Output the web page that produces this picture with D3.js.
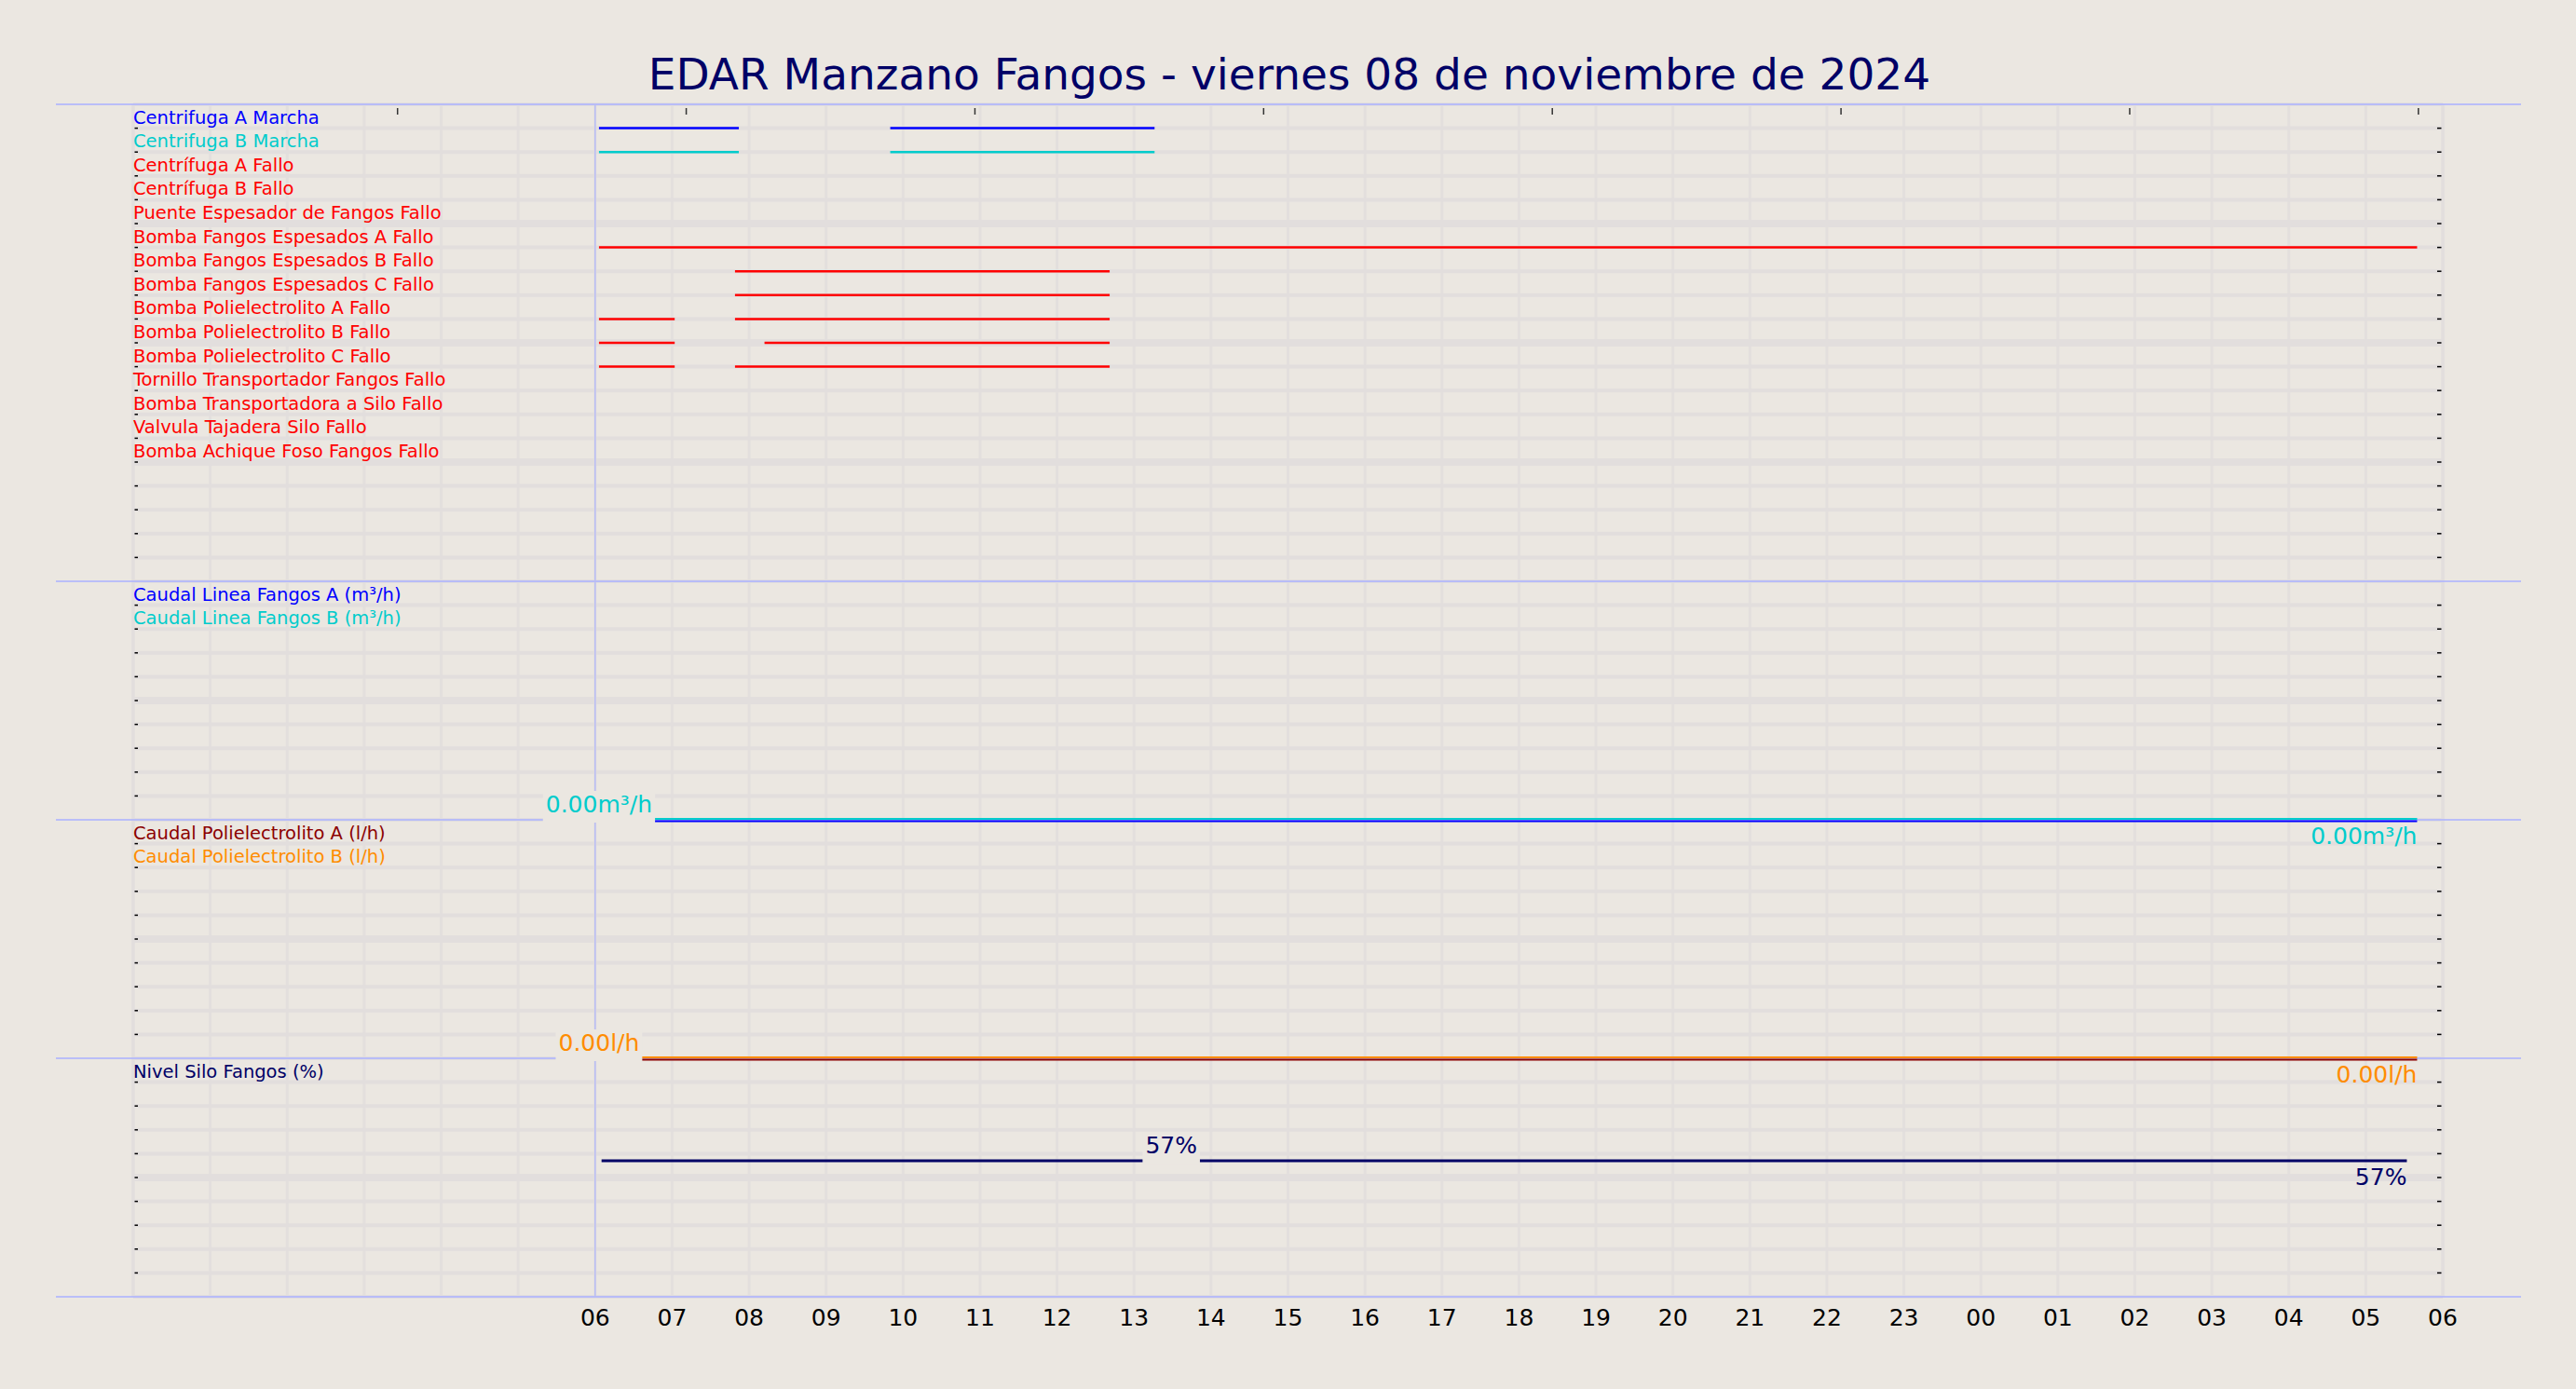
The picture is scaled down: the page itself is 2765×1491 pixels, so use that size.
<!DOCTYPE html>
<html lang="es">
<head>
<meta charset="UTF-8">
<title>EDAR Manzano Fangos</title>
<script src="https://d3js.org/d3.v7.min.js"></script>
<style>
  body { margin: 0; background: #ebe7e1; }
  text { font-family: "DejaVu Sans", sans-serif; }
</style>
</head>
<body>
<div id="chart"></div>
<script>
const width = 2765, height = 1491;
const title = "EDAR Manzano Fangos   -   viernes 08 de noviembre de 2024";

// digital signals (panel 1)
const signalNames = [
  "Centrifuga A Marcha", "Centrifuga B Marcha", "Centrífuga A Fallo", "Centrífuga B Fallo",
  "Puente Espesador de Fangos Fallo", "Bomba Fangos Espesados A Fallo", "Bomba Fangos Espesados B Fallo",
  "Bomba Fangos Espesados C Fallo", "Bomba Polielectrolito A Fallo", "Bomba Polielectrolito B Fallo",
  "Bomba Polielectrolito C Fallo", "Tornillo Transportador Fangos Fallo", "Bomba Transportadora a Silo Fallo",
  "Valvula Tajadera Silo Fallo", "Bomba Achique Foso Fangos Fallo"
];
const signalColors = ["#0000ff", "#00cccc", "#ff0000", "#ff0000", "#ff0000", "#ff0000", "#ff0000",
  "#ff0000", "#ff0000", "#ff0000", "#ff0000", "#ff0000", "#ff0000", "#ff0000", "#ff0000"];
// on intervals per signal, "HH:MM" (next day if prefixed with "+")
const signalOn = [
  [["06:03", "07:52"], ["09:50", "13:16"]],
  [["06:03", "07:52"], ["09:50", "13:16"]],
  [], [], [],
  [["06:03", "+05:40"]],
  [["07:49", "12:41"]],
  [["07:49", "12:41"]],
  [["06:03", "07:02"], ["07:49", "12:41"]],
  [["06:03", "07:02"], ["08:12", "12:41"]],
  [["06:03", "07:02"], ["07:49", "12:41"]],
  [], [], [], []
];

// analog panels
const analogPanels = [
  { names: ["Caudal Linea Fangos A (m³/h)", "Caudal Linea Fangos B (m³/h)"], colors: ["#0000ff", "#00cccc"],
    unit: "m³/h", max: 100, start: "06:03", end: "+05:40", values: [0, 0], midLabel: null },
  { names: ["Caudal Polielectrolito A (l/h)", "Caudal Polielectrolito B (l/h)"], colors: ["#8b0000", "#ff8c00"],
    unit: "l/h", max: 100, start: "06:03", end: "+05:40", values: [0, 0], midLabel: null },
  { names: ["Nivel Silo Fangos (%)"], colors: ["#000066"],
    unit: "%", max: 100, start: "06:05", end: "+05:32", values: [57], midLabel: "13:29" }
];

const hourLabels = ["06","07","08","09","10","11","12","13","14","15","16","17","18","19","20","21","22","23","00","01","02","03","04","05","06"];
const topTicks = ["03:26","07:11","10:56","14:41","18:26","22:11","+01:56","+05:41"];

function t(s) {
  const plus = s.startsWith("+");
  const [h, m] = s.replace("+", "").split(":").map(Number);
  return new Date(2024, 10, plus ? 9 : 8, h, m);
}

const svg = d3.select("#chart").append("svg").attr("width", width).attr("height", height);
const plotLeft = 143, plotRight = 2622, plotTop = 112, rowH = 25.6;
const x = d3.scaleTime().domain([t("00:00"), t("+06:00")]).range([plotLeft, plotRight]);

const panels = [{ top: plotTop, rows: 20 }];
analogPanels.forEach((p, i) => panels.push({ top: plotTop + 512 + i * 256, rows: 10 }));
const plotBottom = plotTop + 512 + 3 * 256;

svg.append("text").attr("x", 1384).attr("y", 96).attr("text-anchor", "middle")
  .attr("font-size", 47).attr("fill", "#000066").text(title);

// vertical grid
const hours = d3.timeHour.range(t("00:00"), t("+06:01"));
svg.append("g").selectAll("line").data(hours).join("line")
  .attr("x1", d => x(d)).attr("x2", d => x(d)).attr("y1", plotTop).attr("y2", plotBottom)
  .attr("stroke", "#e3dfdd").attr("stroke-width", 3);

// horizontal grid + side ticks
panels.forEach(p => {
  const idx = d3.range(0, p.rows + 1);
  const g = svg.append("g");
  g.selectAll("line.h").data(idx).join("line").attr("class", "h")
    .attr("x1", plotLeft).attr("x2", plotRight)
    .attr("y1", i => p.top + i * rowH).attr("y2", i => p.top + i * rowH)
    .attr("stroke", "#e2dedd").attr("stroke-width", i => i % 5 === 0 && i > 0 && i < p.rows ? 8 : 4);
  g.selectAll("line.r").data(idx.slice(1, -1)).join("line").attr("class", "r")
    .attr("x1", plotRight - 6).attr("x2", plotRight - 1)
    .attr("y1", i => p.top + i * rowH).attr("y2", i => p.top + i * rowH)
    .attr("stroke", "#000").attr("stroke-width", 1.5);
  g.selectAll("line.l").data(idx.slice(1, -1)).join("line").attr("class", "l")
    .attr("x1", plotLeft + 1).attr("x2", plotLeft + 5)
    .attr("y1", i => p.top + i * rowH).attr("y2", i => p.top + i * rowH)
    .attr("stroke", "#000").attr("stroke-width", 1.5);
});
[plotLeft, plotRight].forEach(xx => svg.append("line").attr("x1", xx).attr("x2", xx)
  .attr("y1", plotTop).attr("y2", plotBottom).attr("stroke", "#e2dedd").attr("stroke-width", 3));

// panel separators
const seps = panels.map(p => p.top).concat([plotBottom]);
svg.append("g").selectAll("line").data(seps).join("line")
  .attr("x1", 60).attr("x2", 2706).attr("y1", d => d).attr("y2", d => d)
  .attr("stroke", "#aab0ff").attr("stroke-width", 1.5);
svg.append("line").attr("x1", x(t("06:00"))).attr("x2", x(t("06:00"))).attr("y1", plotTop).attr("y2", plotBottom)
  .attr("stroke", "#b8bcf5").attr("stroke-width", 1.5);

// top ticks
svg.append("g").selectAll("line").data(topTicks).join("line")
  .attr("x1", d => x(t(d))).attr("x2", d => x(t(d))).attr("y1", plotTop + 4).attr("y2", plotTop + 11)
  .attr("stroke", "#333").attr("stroke-width", 1.5);

// panel 1 signals
signalNames.forEach((name, i) => {
  const yb = plotTop + (i + 1) * rowH;
  svg.append("text").attr("x", plotLeft).attr("y", yb - 5).attr("font-size", 19.5)
    .attr("fill", signalColors[i]).text(name);
  svg.append("g").selectAll("line").data(signalOn[i]).join("line")
    .attr("x1", d => x(t(d[0]))).attr("x2", d => x(t(d[1])))
    .attr("y1", yb).attr("y2", yb).attr("stroke", signalColors[i]).attr("stroke-width", 2.5);
});

// analog panels
analogPanels.forEach((a, k) => {
  const p = panels[k + 1];
  const y = d3.scaleLinear().domain([0, a.max]).range([p.top + p.rows * rowH, p.top]);
  a.names.forEach((n, j) => {
    svg.append("text").attr("x", plotLeft).attr("y", p.top + (j + 1) * rowH - 5).attr("font-size", 19.5)
      .attr("fill", a.colors[j]).text(n);
  });
  a.values.forEach((v, j) => {
    const off = a.values.length > 1 ? (j === 0 ? 1.5 : -1) : 0;
    svg.append("line").attr("x1", x(t(a.start))).attr("x2", x(t(a.end)))
      .attr("y1", y(v) + off).attr("y2", y(v) + off)
      .attr("stroke", a.colors[j]).attr("stroke-width", a.values.length > 1 ? 2 : 3);
  });
  const last = a.values.length - 1, v = a.values[last], c = a.colors[last];
  const fmt = a.unit === "%" ? d3.format(".0f")(v) + "%" : d3.format(".2f")(v) + a.unit;
  const lx = a.midLabel ? x(t(a.midLabel)) : x(t(a.start));
  const txt = svg.append("text").attr("x", lx).attr("y", y(v) - 8).attr("text-anchor", "middle")
    .attr("font-size", 25).attr("fill", c).text(fmt);
  const b = txt.node().getBBox();
  svg.insert("rect", () => txt.node()).attr("x", b.x - 3).attr("y", b.y)
    .attr("width", b.width + 6).attr("height", y(v) - b.y + 3).attr("fill", "#ebe7e1");
  svg.append("text").attr("x", x(t(a.end))).attr("y", y(v) + 26).attr("text-anchor", "end")
    .attr("font-size", 25).attr("fill", c).text(fmt);
});

// bottom axis labels
const labelTimes = d3.timeHour.range(t("06:00"), t("+06:01"));
svg.append("g").selectAll("text").data(labelTimes).join("text")
  .attr("x", d => x(d)).attr("y", plotBottom + 31).attr("text-anchor", "middle")
  .attr("font-size", 25).attr("fill", "#000").text((d, i) => hourLabels[i]);
</script>
</body>
</html>
